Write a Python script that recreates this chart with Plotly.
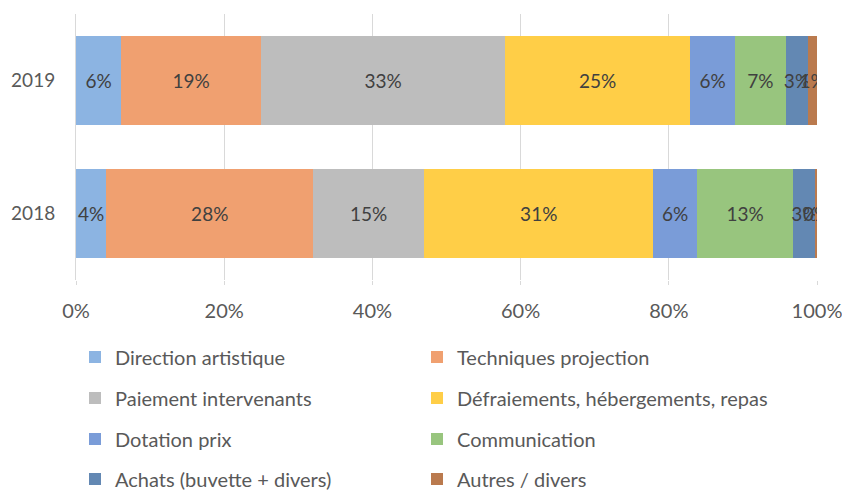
import plotly.graph_objects as go

years = ["2018", "2019"]
categories = ["Direction artistique", "Techniques projection", "Paiement intervenants",
              "Défraiements, hébergements, repas", "Dotation prix", "Communication",
              "Achats (buvette + divers)", "Autres / divers"]
share_2018 = [0.041, 0.279, 0.150, 0.309, 0.059, 0.130, 0.030, 0.002]
share_2019 = [0.061, 0.189, 0.329, 0.250, 0.060, 0.069, 0.030, 0.012]
colors = ["#8CB4E2", "#F0A070", "#BDBDBD", "#FFCE47", "#7A9CD8", "#98C57E", "#6388B3", "#BA7A4E"]

FONT = "Lato"
FS = 19
L, R, T, B = 76, 25, 14, 210
W, H = 842, 490
PW, PH = W - L - R, H - T - B

fig = go.Figure()
layout_legends = {}
row_y = [357, 398, 439, 479]
col_x = [75, 417]
for i, cat in enumerate(categories):
    key = "legend" if i == 0 else f"legend{i + 1}"
    fig.add_trace(go.Bar(
        y=years, x=[share_2018[i], share_2019[i]], name=cat, orientation="h",
        marker=dict(color=colors[i], line=dict(width=0)),
        texttemplate="%{x:.0%}", textposition="inside", insidetextanchor="middle",
        textangle=0, constraintext="none",
        textfont=dict(family=FONT, size=FS, color="#404040"),
        legend=key,
    ))
    layout_legends[key] = dict(
        orientation="h", xanchor="left", yanchor="middle",
        x=(col_x[i % 2] - L) / PW, y=(H - B - row_y[i // 2]) / PH,
        font=dict(family=FONT, size=20, color="#595959"),
        bgcolor="rgba(0,0,0,0)", itemwidth=30,
    )

fig.update_layout(
    barmode="stack", bargap=0.33,
    width=W, height=H,
    margin=dict(l=L, r=R, t=T, b=B, autoexpand=False),
    plot_bgcolor="white", paper_bgcolor="white",
    uniformtext=dict(minsize=FS, mode="show"),
    font=dict(family=FONT, size=FS, color="#595959"),
    xaxis=dict(range=[0, 1], tickvals=[0, 0.2, 0.4, 0.6, 0.8, 1.0], tickformat=".0%",
               showgrid=True, gridcolor="#D9D9D9", gridwidth=1, zeroline=False,
               ticks="outside", ticklen=4, tickcolor="#D9D9D9", ticklabelstandoff=9,
               automargin=False, ticklabeloverflow="allow",
               tickfont=dict(family=FONT, size=20, color="#595959"), showline=False),
    yaxis=dict(showline=True, linecolor="#D9D9D9", ticks="", ticklabelstandoff=16,
               automargin=False,
               tickfont=dict(family=FONT, size=FS, color="#595959")),
    showlegend=True,
    **layout_legends,
)
fig.write_html("out.html", config={"displayModeBar": False},
               post_script="document.body.style.margin='0';")
